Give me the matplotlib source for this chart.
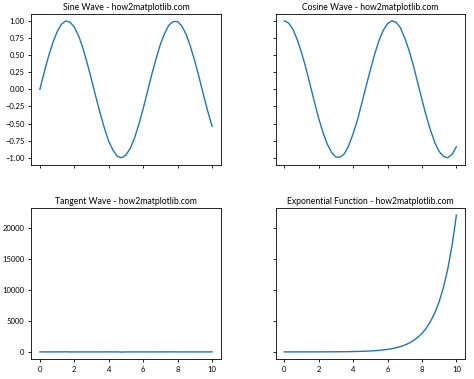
import matplotlib
matplotlib.use("Agg")
from matplotlib import pyplot as plt

plt.rcParams['font.family'] = ['Lato', 'DejaVu Sans']

# sample positions along x (0..10)
x = [i * 0.25 for i in range(41)]

sine = [0.00, 0.25, 0.48, 0.68, 0.84, 0.95, 1.00, 0.98, 0.91, 0.78,
        0.60, 0.38, 0.14, -0.11, -0.35, -0.57, -0.76, -0.89, -0.98, -1.00,
        -0.96, -0.86, -0.71, -0.51, -0.28, -0.03, 0.22, 0.45, 0.66, 0.82,
        0.94, 0.99, 0.99, 0.92, 0.80, 0.62, 0.41, 0.17, -0.08, -0.32, -0.54]

cosine = [1.00, 0.97, 0.88, 0.73, 0.54, 0.32, 0.07, -0.18, -0.42, -0.63,
          -0.80, -0.92, -0.99, -0.99, -0.94, -0.82, -0.65, -0.45, -0.21, 0.04,
          0.28, 0.51, 0.71, 0.86, 0.96, 1.00, 0.98, 0.90, 0.75, 0.57,
          0.35, 0.10, -0.15, -0.39, -0.60, -0.78, -0.91, -0.98, -1.00, -0.95, -0.84]

tangent = [0.00, 0.26, 0.55, 0.93, 1.56, 3.01, 14.1, -5.52, -2.19, -1.24,
           -0.75, -0.41, -0.14, 0.11, 0.37, 0.69, 1.16, 2.00, 4.64, -26.6,
           -3.38, -1.72, -0.99, -0.58, -0.29, -0.03, 0.22, 0.50, 0.87, 1.43,
           2.71, 9.70, -6.80, -2.40, -1.34, -0.79, -0.45, -0.18, 0.08, 0.33, 0.65]

expo = [1, 1.3, 1.6, 2.1, 2.7, 3.5, 4.5, 5.8, 7.4, 9.5,
        12, 16, 20, 26, 33, 43, 55, 70, 90, 116,
        148, 191, 245, 314, 403, 518, 665, 854, 1097, 1408,
        1808, 2322, 2981, 3828, 4915, 6311, 8103, 10405, 13360, 17154, 22026]

titles = ["Sine Wave - how2matplotlib.com", "Cosine Wave - how2matplotlib.com",
          "Tangent Wave - how2matplotlib.com", "Exponential Function - how2matplotlib.com"]


def main():
    fig, axs = plt.subplots(2, 2, figsize=(4.74, 3.79), dpi=100, sharex=True, sharey='row')
    fig.subplots_adjust(left=0.066, right=0.981, top=0.963, bottom=0.053,
                        wspace=0.29, hspace=0.29)

    for ax, ys, title in zip(axs.flat, [sine, cosine, tangent, expo], titles):
        ax.plot(x, ys, color='#1f77b4', linewidth=1.0)
        ax.set_title(title, fontsize=6.2, pad=3)
        ax.tick_params(labelsize=5.5, length=2.5, width=0.6, pad=2.5)
        for s in ax.spines.values():
            s.set_linewidth(0.6)

    axs[0, 0].set_yticks([-1.0, -0.75, -0.5, -0.25, 0.0, 0.25, 0.5, 0.75, 1.0])
    axs[1, 0].set_xticks([0, 2, 4, 6, 8, 10])
    axs[1, 0].set_yticks([0, 5000, 10000, 15000, 20000])

    fig.savefig("out.png", dpi=100)


if __name__ == "__main__":
    main()
